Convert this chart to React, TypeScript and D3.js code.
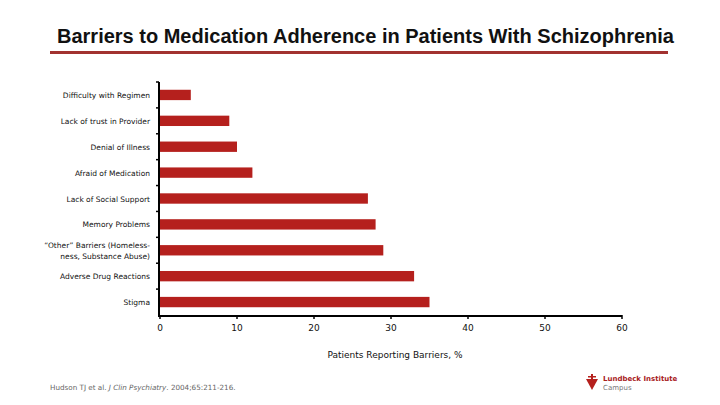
import React from "react";
import * as d3 from "d3";

const categories = [
  "Difficulty with Regimen",
  "Lack of trust in Provider",
  "Denial of Illness",
  "Afraid of Medication",
  "Lack of Social Support",
  "Memory Problems",
  "\u201COther\u201D Barriers (Homeless-|ness, Substance Abuse)",
  "Adverse Drug Reactions",
  "Stigma",
];
const values = [4, 9, 10, 12, 27, 28, 29, 33, 35];
const xTicks = [0, 10, 20, 30, 40, 50, 60];

const W = 720;
const H = 405;
const margin = { left: 160, right: 98, top: 82, bottom: 90 };

const App: React.FC = () => {
  const x = d3.scaleLinear().domain([0, 60]).range([margin.left, W - margin.right]);
  const y = d3
    .scaleBand<string>()
    .domain(categories)
    .range([margin.top, H - margin.bottom])
    .paddingInner(0.6)
    .paddingOuter(0.3);
  const step = y.step();
  const y0 = margin.top;
  const y1 = H - margin.bottom;
  const labelFont = "'DejaVu Sans', Verdana, sans-serif";

  return (
    <svg
      width={W}
      height={H}
      style={{ position: "absolute", left: 0, top: 0, background: "#fff" }}
    >
      <text
        x={57}
        y={43}
        textLength={617}
        lengthAdjust="spacingAndGlyphs"
        fontFamily="'Liberation Sans Narrow', 'Liberation Sans', Arial, sans-serif"
        fontWeight="bold"
        fontSize={20}
        fill="#111"
      >
        Barriers to Medication Adherence in Patients With Schizophrenia
      </text>
      <line x1={50} x2={668} y1={52.5} y2={52.5} stroke="#a23230" strokeWidth={3} />

      {/* bars */}
      {categories.map((c, i) => (
        <rect
          key={c}
          x={x(0)}
          y={y(c)!}
          width={x(values[i]) - x(0)}
          height={y.bandwidth()}
          fill="#b5201d"
        />
      ))}

      {/* y axis */}
      <line x1={x(0) - 1} x2={x(0) - 1} y1={y0} y2={y1 + 1} stroke="#000" strokeWidth={2} />
      {d3.range(categories.length).map((i) => (
        <line
          key={i}
          x1={x(0) - 4}
          x2={x(0) - 1}
          y1={y0 + i * step}
          y2={y0 + i * step}
          stroke="#000"
          strokeWidth={1.5}
        />
      ))}
      {categories.map((c) => {
        const lines = c.split("|");
        const cy = y(c)! + y.bandwidth() / 2;
        return (
          <text
            key={c}
            x={150}
            textAnchor="end"
            fontFamily={labelFont}
            fontSize={7.5}
            fill="#111"
          >
            {lines.map((l, k) => (
              <tspan key={k} x={150} y={cy + 3 + (k - (lines.length - 1) / 2) * 11}>
                {l}
              </tspan>
            ))}
          </text>
        );
      })}

      {/* x axis */}
      <line x1={x(0) - 2} x2={x(60)} y1={y1 + 1} y2={y1 + 1} stroke="#000" strokeWidth={2} />
      {xTicks.map((t) => (
        <g key={t}>
          <line x1={x(t)} x2={x(t)} y1={y1} y2={y1 + 4} stroke="#000" strokeWidth={1.5} />
          <text
            x={x(t)}
            y={y1 + 16}
            textAnchor="middle"
            fontFamily={labelFont}
            fontSize={9}
            fill="#111"
          >
            {t}
          </text>
        </g>
      ))}
      <text
        x={395}
        y={358}
        textAnchor="middle"
        fontFamily={labelFont}
        fontSize={9}
        fill="#111"
      >
        Patients Reporting Barriers, %
      </text>

      {/* footnote */}
      <text x={50} y={390} fontFamily={labelFont} fontSize={7.2} fill="#666">
        Hudson TJ et al. <tspan fontStyle="italic">J Clin Psychiatry</tspan>. 2004;65:211-216.
      </text>

      {/* logo */}
      <g transform="translate(592,382)">
        <path d="M-6,-3 L6,-3 L0,8 Z" fill="#b5201d" />
        <rect x={-1} y={-8} width={2} height={5} fill="#b5201d" />
        <rect x={-4} y={-6} width={8} height={1.5} fill="#b5201d" />
      </g>
      <text x={603} y={381} fontFamily={labelFont} fontSize={7} fontWeight="bold" fill="#a8201c">
        Lundbeck Institute
      </text>
      <text x={603} y={390} fontFamily={labelFont} fontSize={7} fill="#777">
        Campus
      </text>
    </svg>
  );
};

export default App;
